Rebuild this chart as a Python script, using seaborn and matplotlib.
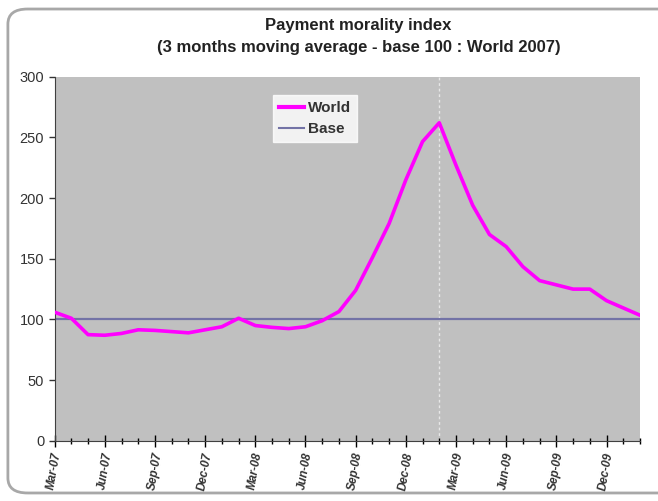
import matplotlib
matplotlib.use("Agg")
import matplotlib.pyplot as plt
from matplotlib.patches import FancyBboxPatch
from matplotlib.lines import Line2D
import seaborn as sns
import pandas as pd

# monthly series, Mar-07 .. Feb-10
months = ["Mar-07", "Apr-07", "May-07", "Jun-07", "Jul-07", "Aug-07", "Sep-07", "Oct-07",
          "Nov-07", "Dec-07", "Jan-08", "Feb-08", "Mar-08", "Apr-08", "May-08", "Jun-08",
          "Jul-08", "Aug-08", "Sep-08", "Oct-08", "Nov-08", "Dec-08", "Jan-09", "Feb-09",
          "Mar-09", "Apr-09", "May-09", "Jun-09", "Jul-09", "Aug-09", "Sep-09", "Oct-09",
          "Nov-09", "Dec-09", "Jan-10", "Feb-10"]
world = [106, 101, 87.5, 87, 88.5, 91.5, 91, 90, 89, 91.5, 94, 101,
         95, 93.5, 92.5, 94, 99, 106.5, 124, 151, 179, 215, 246.5, 262,
         227, 194, 170, 160, 143.5, 132, 128.5, 125, 125, 115.5, 109.5, 103.5]
base_value = 100
tick_labels = ["Mar-07", "Jun-07", "Sep-07", "Dec-07", "Mar-08", "Jun-08",
               "Sep-08", "Dec-08", "Mar-09", "Jun-09", "Sep-09", "Dec-09"]
marker_month = "Feb-09"

plt.rcParams["font.family"] = ["Liberation Sans", "DejaVu Sans"]


def main():
    df = pd.DataFrame({"pos": range(len(months)), "Month": months, "World": world})

    fig = plt.figure(figsize=(6.58, 5.01), dpi=100)
    ax = fig.add_axes([0.083, 0.12, 0.8896, 0.727])
    ax.set_facecolor("#C0C0C0")

    # rounded frame around the whole chart
    fig.patches.append(FancyBboxPatch((0.012, 0.016), 1.2, 0.966, transform=fig.transFigure,
                                      boxstyle="round,pad=0,rounding_size=0.03",
                                      fc="none", ec="#A8A8A8", lw=2, zorder=0))

    vx = months.index(marker_month)
    ax.axvline(vx, color="#E8E8E8", lw=1, ls=(0, (2, 2)), zorder=1)
    ax.axhline(base_value, color="#7373A6", lw=1.6, zorder=2)
    sns.lineplot(data=df, x="pos", y="World", color="#FF00FF", lw=2.6, ax=ax, zorder=3)

    ax.set_xlim(0, len(months) - 1)
    ax.set_ylim(0, 300)
    ax.set_yticks(range(0, 301, 50))
    ax.set_xticks([months.index(m) for m in tick_labels])
    ax.set_xticks(range(len(months)), minor=True)
    ax.set_xticklabels(tick_labels, rotation=80, fontsize=8.5, fontweight="bold",
                       fontstyle="italic", color="#333333")
    ax.tick_params(axis="y", labelsize=10.5, colors="#333333", length=4, width=1)
    ax.tick_params(axis="x", which="major", direction="inout", length=8, width=1)
    ax.tick_params(axis="x", which="minor", direction="inout", length=5, width=1)
    ax.set_xlabel(None)
    ax.set_ylabel(None)
    for side in ["top", "right"]:
        ax.spines[side].set_visible(False)
    for side in ["left", "bottom"]:
        ax.spines[side].set_color("#404040")

    handles = [Line2D([], [], color="#FF00FF", lw=3),
               Line2D([], [], color="#7373A6", lw=1.5)]
    leg = ax.legend(handles, ["World", "Base"], loc="upper left", bbox_to_anchor=(0.36, 0.97),
                    frameon=True, fancybox=False, handlelength=1.6, handletextpad=0.3,
                    borderpad=0.4, labelspacing=0.45,
                    prop={"weight": "bold", "size": 11})
    leg.get_frame().set_facecolor("white")
    leg.get_frame().set_edgecolor("white")
    for t in leg.get_texts():
        t.set_color("#333333")

    fig.text(0.545, 0.95, "Payment morality index", ha="center", va="center",
             fontsize=12, fontweight="bold", color="#222222")
    fig.text(0.545, 0.905, "(3 months moving average - base 100 : World 2007)", ha="center",
             va="center", fontsize=12, fontweight="bold", color="#222222")

    fig.savefig("out.png", dpi=100)


if __name__ == "__main__":
    main()
